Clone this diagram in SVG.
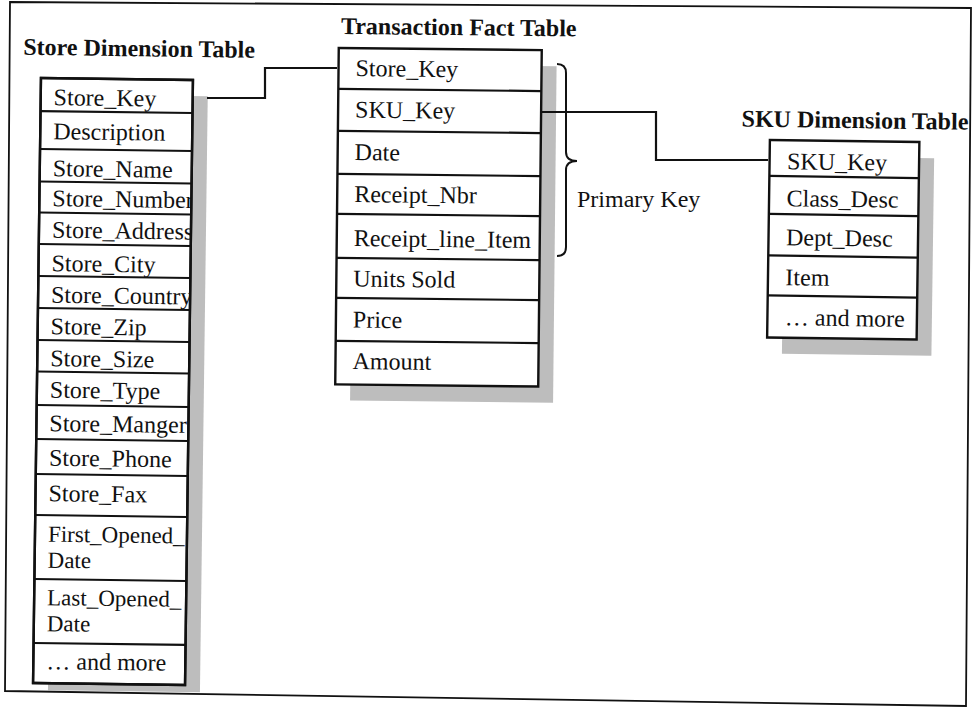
<svg xmlns="http://www.w3.org/2000/svg" width="972" height="709" viewBox="0 0 972 709">
<style>
  .bg { fill: #ffffff; }
  .frame { fill: none; stroke: #111; stroke-width: 1.8; }
  .shadow { fill: #bdbdbd; }
  .tbl { fill: #ffffff; stroke: #111; stroke-width: 2.4; }
  .row { stroke: #111; stroke-width: 2.2; fill: none; }
  .cell { font-family: "Liberation Serif", "Times New Roman", serif; font-size: 24px; fill: #111; }
  .cell2 { font-family: "Liberation Serif", "Times New Roman", serif; font-size: 23px; fill: #111; }
  .title { font-family: "Liberation Serif", "Times New Roman", serif; font-size: 24px; font-weight: bold; fill: #111; }
  .conn { fill: none; stroke: #111; stroke-width: 2.2; }
  .brace { fill: none; stroke: #111; stroke-width: 2; }
</style>
<defs>
  <clipPath id="clipStore"><rect x="37" y="79" width="152" height="605"/></clipPath>
  <clipPath id="clipFact"><rect x="337" y="49" width="203" height="336.5"/></clipPath>
  <clipPath id="clipSku"><rect x="768.5" y="141" width="149.5" height="197.5"/></clipPath>
  <clipPath id="clipFrame"><polygon points="10,2 968,8 966,706 5,691"/></clipPath>
</defs>
<rect class="bg" x="0" y="0" width="972" height="709"/>

<g id="store-dimension-table" transform="rotate(0.75 113 381.5)">
  <text class="title" x="19" y="56">Store Dimension Table</text>
  <rect class="shadow" x="52" y="95" width="152" height="596"/>
  <rect class="tbl" x="37" y="79" width="152" height="605"/>
  <g clip-path="url(#clipStore)">
    <text class="cell" x="50" y="106">Store_Key</text>
    <text class="cell" x="50" y="140">Description</text>
    <text class="cell" x="50" y="177">Store_Name</text>
    <text class="cell" x="50" y="207">Store_Number</text>
    <text class="cell" x="50" y="238.5">Store_Address</text>
    <text class="cell" x="50" y="272">Store_City</text>
    <text class="cell" x="50" y="303.5">Store_Country</text>
    <text class="cell" x="50" y="335">Store_Zip</text>
    <text class="cell" x="50" y="367">Store_Size</text>
    <text class="cell" x="50" y="398.5">Store_Type</text>
    <text class="cell" x="50" y="432">Store_Manger</text>
    <text class="cell" x="50" y="466.5">Store_Phone</text>
    <text class="cell" x="50" y="502">Store_Fax</text>
    <text class="cell2" x="50" y="542.5"><tspan x="50" y="542.5">First_Opened_</tspan><tspan x="50" y="568.5">Date</tspan></text>
    <text class="cell2" x="50" y="606"><tspan x="50" y="606">Last_Opened_</tspan><tspan x="50" y="632">Date</tspan></text>
    <text class="cell" x="50" y="670">… and more</text>
  </g>
  <path class="row" d="M37,112H189 M37,150H189 M37,182.5H189 M37,213.5H189 M37,245H189 M37,277H189 M37,309H189 M37,341H189 M37,372.5H189 M37,406H189 M37,440H189 M37,475H189 M37,516H189 M37,580H189 M37,644H189"/>
  <rect class="tbl" x="37" y="79" width="152" height="605" style="fill:none"/>
</g>

<g id="transaction-fact-table" transform="rotate(0.6 438.5 217)">
  <text class="title" x="339" y="35">Transaction Fact Table</text>
  <rect class="shadow" x="352" y="65" width="203" height="336.5"/>
  <rect class="tbl" x="337" y="49" width="203" height="336.5"/>
  <g clip-path="url(#clipFact)">
    <text class="cell" x="354" y="77">Store_Key</text>
    <text class="cell" x="354" y="118.5">SKU_Key</text>
    <text class="cell" x="354" y="161">Date</text>
    <text class="cell" x="354" y="203">Receipt_Nbr</text>
    <text class="cell" x="354" y="247">Receipt_line_Item</text>
    <text class="cell" x="354" y="287.5">Units Sold</text>
    <text class="cell" x="354" y="328.5">Price</text>
    <text class="cell" x="354" y="370">Amount</text>
  </g>
  <path class="row" d="M337,90H540 M337,132H540 M337,175H540 M337,215H540 M337,259H540 M337,299H540 M337,342H540"/>
</g>

<g id="sku-dimension-table" transform="rotate(0.8 843 240)">
  <g clip-path="url(#clipFrame)">
    <text class="title" x="740" y="128">SKU Dimension Table</text>
  </g>
  <rect class="shadow" x="783.5" y="157" width="149.5" height="197.5"/>
  <rect class="tbl" x="768.5" y="141" width="149.5" height="197.5"/>
  <g clip-path="url(#clipSku)">
    <text class="cell" x="786" y="170">SKU_Key</text>
    <text class="cell" x="786" y="207">Class_Desc</text>
    <text class="cell" x="786" y="246">Dept_Desc</text>
    <text class="cell" x="786" y="286">Item</text>
    <text class="cell" x="786" y="326">… and more</text>
  </g>
  <path class="row" d="M768.5,177H918 M768.5,215H918 M768.5,256.5H918 M768.5,296.5H918"/>
</g>

<g id="primary-key-annotation">
  <path class="brace" d="M557,64 Q566,64 566,73 L566,152 Q566,161 577,161 Q566,161 566,170 L566,247 Q566,256 557,256"/>
  <text class="cell" x="577" y="207">Primary Key</text>
</g>

<g id="connectors">
  <polyline class="conn" points="207,98 265,98 265,68 337,68"/>
  <polyline class="conn" points="541,112 656,112 656,160 768,160"/>
</g>

<polygon id="frame" class="frame" points="10,2 971,8 966,706 5,691"/>
</svg>
